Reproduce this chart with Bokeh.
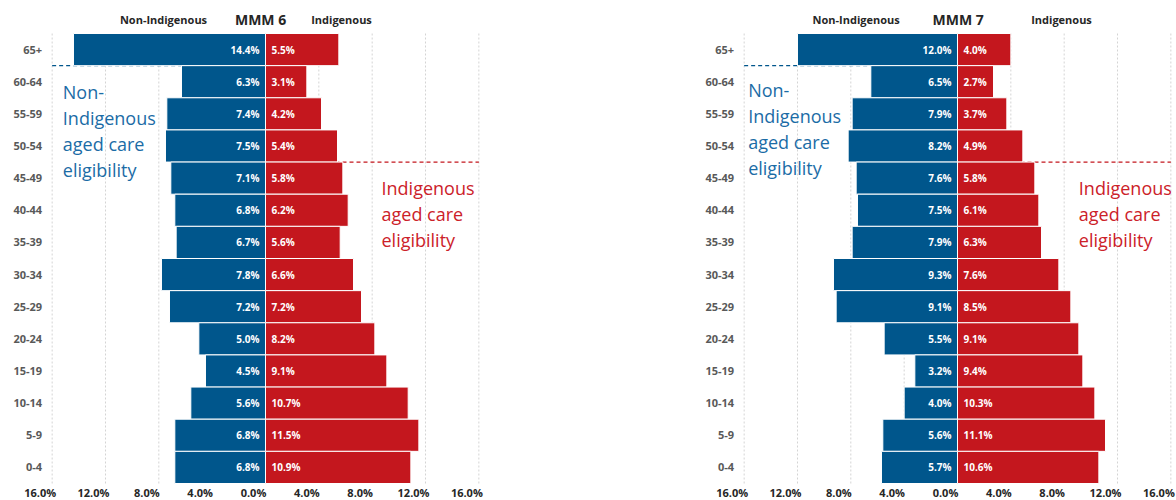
from bokeh.plotting import figure
from bokeh.layouts import row
from bokeh.models import ColumnDataSource
from bokeh.core.properties import value
from bokeh.embed import file_html
from bokeh.resources import INLINE

age_groups = ["65+", "60-64", "55-59", "50-54", "45-49", "40-44", "35-39",
              "30-34", "25-29", "20-24", "15-19", "10-14", "5-9", "0-4"]
mmm6_non_ind = [14.4, 6.3, 7.4, 7.5, 7.1, 6.8, 6.7, 7.8, 7.2, 5.0, 4.5, 5.6, 6.8, 6.8]
mmm6_ind = [5.5, 3.1, 4.2, 5.4, 5.8, 6.2, 5.6, 6.6, 7.2, 8.2, 9.1, 10.7, 11.5, 10.9]
mmm7_non_ind = [12.0, 6.5, 7.9, 8.2, 7.6, 7.5, 7.9, 9.3, 9.1, 5.5, 3.2, 4.0, 5.6, 5.7]
mmm7_ind = [4.0, 2.7, 3.7, 4.9, 5.8, 6.1, 6.3, 7.6, 8.5, 9.1, 9.4, 10.3, 11.1, 10.6]
x_ticks = [-16, -12, -8, -4, 0, 4, 8, 12, 16]
x_tick_labels = ["16.0%", "12.0%", "8.0%", "4.0%", "0.0%", "4.0%", "8.0%", "12.0%", "16.0%"]
non_ind_note = ["Non-", "Indigenous", "aged care", "eligibility"]
ind_note = ["Indigenous", "aged care", "eligibility"]

BLUE = "#00568C"
RED = "#C4171E"
BLUE_TXT = "#1B6CA6"
RED_TXT = "#CC2129"
FONT = value("Open Sans")
N = len(age_groups)
FRAME_TOP = 33
ROW_PX = 450 / N
X_PX = 426.7 / 32  # pixels per percent


def make_panel(title, non_ind, ind, width, zero_px, hdr_x, note_blue_x, note_red_x, blue_px, red_px):
    x0 = -zero_px / X_PX
    x1 = (width - zero_px) / X_PX
    y1 = (N - 0.5) + FRAME_TOP / ROW_PX
    y0 = y1 - 500 / ROW_PX
    p = figure(width=width, height=500, x_range=(x0, x1), y_range=(y0, y1),
               output_backend="svg", toolbar_location=None,
               x_axis_location=None, y_axis_location=None, min_border=0)
    p.outline_line_color = None
    p.grid.grid_line_color = None
    p.background_fill_color = "white"
    ys = [N - 1 - i for i in range(N)]

    # dashed vertical gridlines
    p.segment(x0=x_ticks, x1=x_ticks, y0=[-0.5] * len(x_ticks), y1=[N - 0.5] * len(x_ticks),
              line_color="#d4d4d4", line_dash="2 2", line_width=1)

    # dashed eligibility lines (behind bars)
    p.line(x=[-16, 0], y=[N - 1.5, N - 1.5], line_color=BLUE, line_dash="4 3", line_width=1.2)
    p.line(x=[0, 16], y=[N - 4.5, N - 4.5], line_color=RED, line_dash="4 3", line_width=1.2)

    src = ColumnDataSource(dict(
        y=ys, left=[-v for v in non_ind], right=ind, zero=[0] * N,
        nl=[f"{v:.1f}%" for v in non_ind], il=[f"{v:.1f}%" for v in ind],
        age=age_groups))
    p.hbar(y="y", left="left", right="zero", height=1.0, source=src,
           fill_color=BLUE, line_color="white", line_width=1)
    p.hbar(y="y", left="zero", right="right", height=1.0, source=src,
           fill_color=RED, line_color="white", line_width=1)

    p.text(x=0, y="y", text="nl", source=src, x_offset=-6, text_align="right",
           text_baseline="middle", text_color="white", text_font=FONT,
           text_font_style="bold", text_font_size="10px")
    p.text(x=0, y="y", text="il", source=src, x_offset=6, text_align="left",
           text_baseline="middle", text_color="white", text_font=FONT,
           text_font_style="bold", text_font_size="10px")

    # y category labels
    p.text(x=-16, y="y", text="age", source=src, x_offset=-10, text_align="right",
           text_baseline="middle", text_color="#595959", text_font=FONT,
           text_font_style="bold", text_font_size="11px")

    # x tick labels
    p.text(x=x_ticks, y=[-0.5] * len(x_ticks), text=x_tick_labels, x_offset=-12, y_offset=9,
           text_align="center", text_baseline="middle", text_color="#262626",
           text_font=FONT, text_font_style="bold", text_font_size="11px")

    def py(px):
        return (N - 0.5) - (px - FRAME_TOP) / ROW_PX

    # annotations
    p.text(x=[note_blue_x] * len(non_ind_note),
           y=[py(blue_px + 26 * i) for i in range(len(non_ind_note))],
           text=non_ind_note, text_align="left", text_baseline="middle",
           text_color=BLUE_TXT, text_font=FONT, text_font_size="18px")
    p.text(x=[note_red_x] * len(ind_note),
           y=[py(red_px + 26 * i) for i in range(len(ind_note))],
           text=ind_note, text_align="left", text_baseline="middle",
           text_color=RED_TXT, text_font=FONT, text_font_size="18px")

    # header
    hy = py(19)
    p.text(x=[hdr_x[0], hdr_x[2]], y=[hy, hy], text=["Non-Indigenous", "Indigenous"],
           text_align="center", text_baseline="middle", text_font=FONT,
           text_font_style="bold", text_font_size="11px", text_color="#262626")
    p.text(x=[hdr_x[1]], y=[hy], text=[title], text_align="center", text_baseline="middle",
           text_font=FONT, text_font_style="bold", text_font_size="14px",
           text_color="#262626")
    return p


p1 = make_panel("MMM 6", mmm6_non_ind, mmm6_ind, 600, 265, (-7.65, -0.37, 5.7),
                -15.2, 8.7, 91, 187)
p2 = make_panel("MMM 7", mmm7_non_ind, mmm7_ind, 576, 357, (-7.6, 0.05, 7.8),
                -15.7, 9.1, 89, 187)
layout = row(p1, p2)
open("out.html", "w").write(file_html(layout, INLINE))
